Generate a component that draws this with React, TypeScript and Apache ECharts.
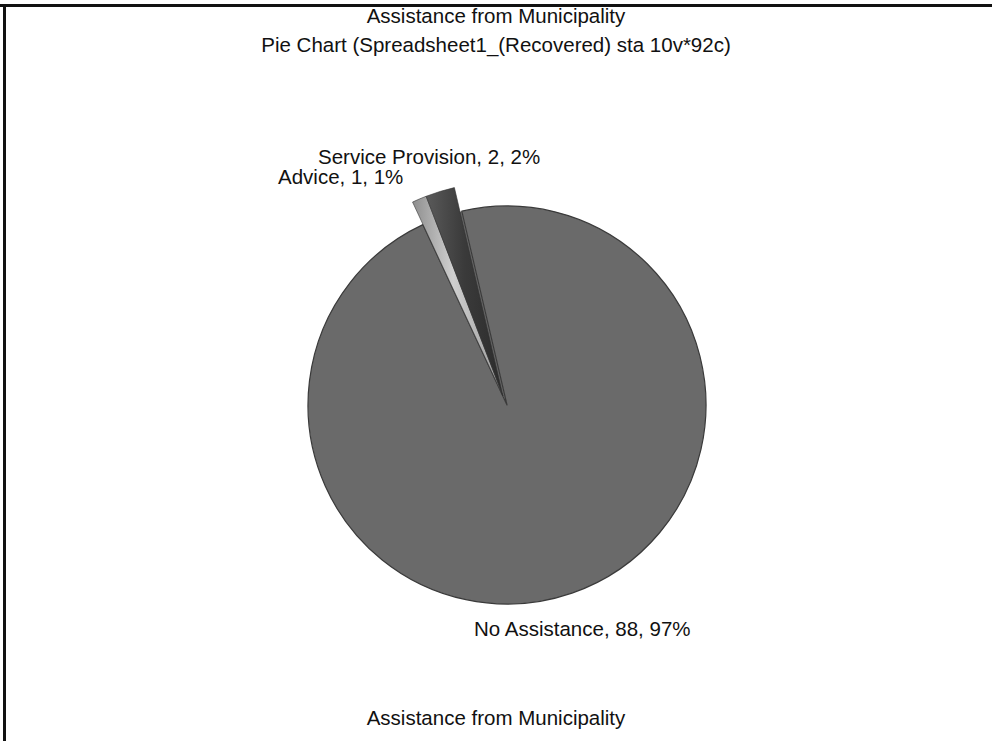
import React, { useEffect, useRef } from "react";
import * as echarts from "echarts";

const categories = ["Advice", "Service Provision", "No Assistance"];
const counts = [1, 2, 88];
const titleText = "Assistance from Municipality";
const subtitleText = "Pie Chart (Spreadsheet1_(Recovered) sta 10v*92c)";
const footerText = "Assistance from Municipality";

const MAIN_GRAY = "#6a6a6a";

export default function App() {
  const ref = useRef<HTMLDivElement>(null);

  useEffect(() => {
    if (!ref.current) return;
    const chart = echarts.init(ref.current, undefined, { renderer: "svg" });

    const sliceColors = [
      new echarts.graphic.LinearGradient(0, 0, 1, 0, [
        { offset: 0, color: "#8e8e8e" },
        { offset: 0.45, color: "#d0d0d0" },
        { offset: 1, color: "#9a9a9a" },
      ]),
      new echarts.graphic.LinearGradient(0, 0, 1, 0, [
        { offset: 0, color: "#5a5a5a" },
        { offset: 0.5, color: "#3a3a3a" },
        { offset: 1, color: "#2c2c2c" },
      ]),
      "transparent",
    ];

    const labelAnchors: Record<number, { x: number; y: number }> = {
      0: { x: 278, y: 176.5 },
      1: { x: 318, y: 156.5 },
      2: { x: 474, y: 628 },
    };

    const font = "'Liberation Sans', Arial, sans-serif";
    const fs = 20.5;

    chart.setOption({
      animation: false,
      backgroundColor: "#ffffff",
      title: [
        {
          text: titleText,
          left: "center",
          top: 5,
          padding: 0,
          textStyle: { fontFamily: font, fontSize: fs, fontWeight: "normal", color: "#111" },
        },
        {
          text: subtitleText,
          left: "center",
          top: 34,
          padding: 0,
          textStyle: { fontFamily: font, fontSize: fs, fontWeight: "normal", color: "#111" },
        },
        {
          text: footerText,
          left: "center",
          top: 707,
          padding: 0,
          textStyle: { fontFamily: font, fontSize: fs, fontWeight: "normal", color: "#111" },
        },
      ],
      graphic: [
        {
          type: "line",
          shape: { x1: 0, y1: 5.5, x2: 992, y2: 5.5 },
          style: { stroke: "#111", lineWidth: 3 },
        },
        {
          type: "line",
          shape: { x1: 4.5, y1: 5, x2: 4.5, y2: 741 },
          style: { stroke: "#111", lineWidth: 3 },
        },
      ],
      series: [
        {
          type: "pie",
          silent: true,
          center: [507, 405],
          radius: 199,
          startAngle: 115,
          clockwise: true,
          label: { show: false },
          labelLine: { show: false },
          data: categories.map((name, i) => ({
            name,
            value: counts[i],
            itemStyle:
              i === 2
                ? { color: MAIN_GRAY, borderColor: "#3a3a3a", borderWidth: 1.2 }
                : { color: MAIN_GRAY, borderWidth: 0 },
          })),
        },
        {
          type: "pie",
          silent: true,
          center: [503, 396],
          radius: 214,
          startAngle: 115,
          clockwise: true,
          percentPrecision: 0,
          label: {
            show: true,
            position: "outside",
            formatter: "{b}, {c}, {d}%",
            fontFamily: font,
            fontSize: fs,
            lineHeight: 18,
            color: "#111",
          },
          labelLine: { show: false },
          labelLayout: (p: any) => {
            const a = labelAnchors[p.dataIndex];
            return { x: a.x, y: a.y, align: "left", verticalAlign: "middle" };
          },
          data: categories.map((name, i) => ({
            name,
            value: counts[i],
            itemStyle: {
              color: sliceColors[i],
              borderColor: i === 2 ? "transparent" : "#333",
              borderWidth: i === 2 ? 0 : 0.6,
            },
          })),
        },
      ],
    });

    return () => chart.dispose();
  }, []);

  return (
    <div
      ref={ref}
      style={{ position: "absolute", left: 0, top: 0, width: 992, height: 741 }}
    />
  );
}
